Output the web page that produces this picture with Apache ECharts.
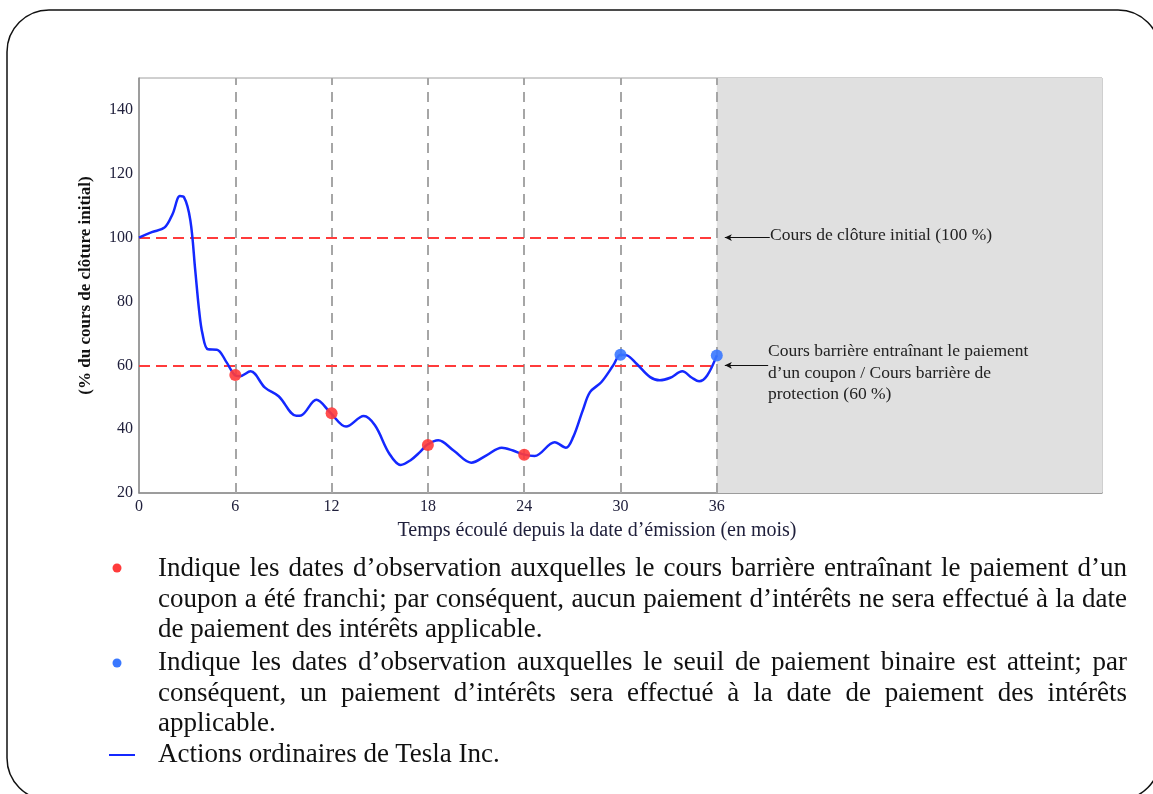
<!DOCTYPE html>
<html lang="fr">
<head>
    <title>Tesla - cours barrière</title>
    <meta charset="utf-8" />
    <script src="https://cdn.jsdelivr.net/npm/echarts@6/dist/echarts.min.js"></script>
    <style>
        body {
            margin: 0;
            background-color: #ffffff;
        }

        #main {
            position: absolute;
            left: 0;
            top: 0;
            width: 1153px;
            height: 794px;
        }

        .ligne {
            position: absolute;
            left: 158px;
            width: 969px;
            height: 31px;
            line-height: 31px;
            font-family: 'Liberation Serif', serif;
            font-size: 27px;
            color: #111;
            white-space: nowrap;
            text-align: justify;
            text-align-last: justify;
        }

        .fin {
            text-align: left;
            text-align-last: left;
        }
    </style>

    <script>
        // mois écoulés / cours en % du cours initial
        let months = [0, 0.8, 1.6, 2.1, 2.55, 2.8, 3.2, 3.5, 3.75, 3.95, 4.3, 4.85, 5.45, 5.95, 6.3, 6.95,
            7.85, 8.7, 9.8, 10.1, 11.05, 11.95, 12.9, 14.0, 14.7, 15.6, 16.3, 16.9, 17.5, 17.95, 18.65,
            19.6, 20.7, 21.65, 22.6, 23.3, 23.95, 24.65, 25.9, 26.6, 27.05, 27.65, 28.1, 28.8, 29.55,
            30.0, 30.4, 31.0, 31.85, 32.45, 33.1, 33.85, 34.45, 34.9, 35.4, 36.0]
        let values = [100, 101.7, 103.2, 107.5, 113, 112.7, 105.4, 90, 77, 70, 65, 64.9, 61, 57, 56.6, 58.1,
            53, 50.3, 44.2, 44.3, 49.2, 45, 40.8, 44.1, 41.2, 32.3, 28.8, 30.2, 32.8, 35.1, 36.5,
            33.3, 29.5, 31.8, 34.2, 33.3, 32.1, 31.6, 35.9, 34.2, 37.5, 45.9, 51.6, 54.7, 60,
            63.3, 63.1, 60.5, 56.3, 55.3, 56.1, 58.1, 56.1, 55, 56.8, 63.1]

        let obsMonths = [6, 12, 18, 24, 30, 36]
        let redMonths = [6, 12, 18, 24]
        let redValues = [57, 45, 35, 32]
        let blueMonths = [30, 36]
        let blueValues = [63.3, 63.1]

        let levelInitial = 100
        let levelBarrier = 60

        let colorLine = '#1428ff'
        let colorRed = '#ff3b3b'
        let colorBlue = '#3a78ff'
        let colorGridDash = '#a6a6a6'
        let colorLabel = '#20203c'
        let fontSerif = 'Liberation Serif'
    </script>
</head>
<body>
<div id="main"></div>

<div class="ligne" style="top:552px">Indique les dates d’observation auxquelles le cours barrière entraînant le paiement d’un</div>
<div class="ligne" style="top:583px">coupon a été franchi; par conséquent, aucun paiement d’intérêts ne sera effectué à la date</div>
<div class="ligne fin" style="top:613px">de paiement des intérêts applicable.</div>
<div class="ligne" style="top:646px">Indique les dates d’observation auxquelles le seuil de paiement binaire est atteint; par</div>
<div class="ligne" style="top:677px">conséquent, un paiement d’intérêts sera effectué à la date de paiement des intérêts</div>
<div class="ligne fin" style="top:707px">applicable.</div>
<div class="ligne fin" style="top:738px">Actions ordinaires de Tesla Inc.</div>

<script type="text/javascript">
    let myChart = echarts.init(document.getElementById('main'), null, {renderer: 'canvas'});

    let lineData = months.map(function (m, i) { return [m, values[i]] })
    let redData = redMonths.map(function (m, i) { return [m, redValues[i]] })
    let blueData = blueMonths.map(function (m, i) { return [m, blueValues[i]] })

    let dashStyle = {color: colorGridDash, width: 2, type: [10, 7]}
    let redDash = {color: colorRed, width: 2, type: [11, 6]}
    let arrowStyle = {color: '#111', width: 1, type: 'solid'}

    let option = {
        backgroundColor: '#ffffff',
        animation: false,
        grid: {
            left: 139,
            top: 78,
            right: 51,
            bottom: 301,
            show: true,
            borderColor: '#a0a0a0',
            borderWidth: 1
        },
        xAxis: {
            type: 'value',
            min: 0,
            max: 60,
            interval: 6,
            axisLine: {lineStyle: {color: '#8c8c8c', width: 1.5}},
            axisTick: {show: false},
            splitLine: {show: false},
            axisLabel: {
                margin: 6,
                fontFamily: fontSerif,
                fontSize: 16,
                color: colorLabel,
                formatter: function (v) { return v <= 36 ? String(v) : '' }
            }
        },
        yAxis: {
            type: 'value',
            min: 20,
            max: 150,
            interval: 20,
            name: '(% du cours de clôture initial)',
            nameLocation: 'middle',
            nameRotate: 90,
            nameGap: 45,
            nameTextStyle: {fontFamily: fontSerif, fontSize: 17, fontWeight: 'bold', color: '#111'},
            axisLine: {show: true, lineStyle: {color: '#8c8c8c', width: 1.5}},
            axisTick: {show: false},
            splitLine: {show: false},
            axisLabel: {
                margin: 6,
                fontFamily: fontSerif,
                fontSize: 16,
                color: colorLabel,
                formatter: function (v) { return v <= 140 ? String(v) : '' }
            }
        },
        graphic: [
            {
                type: 'rect',
                shape: {x: 7, y: 10, width: 1153, height: 790, r: 42},
                style: {fill: 'none', stroke: '#111', lineWidth: 1.5},
                z: 100
            },
            {
                type: 'text',
                x: 597,
                y: 531,
                style: {
                    text: 'Temps écoulé depuis la date d’émission (en mois)',
                    fontFamily: fontSerif,
                    fontSize: 20,
                    fill: colorLabel,
                    align: 'center',
                    verticalAlign: 'middle'
                }
            },
            {
                type: 'text',
                x: 770,
                y: 235,
                style: {
                    text: 'Cours de clôture initial (100 %)',
                    fontFamily: fontSerif,
                    fontSize: 17.5,
                    fill: '#222',
                    verticalAlign: 'middle'
                },
                z: 50
            },
            {
                type: 'text',
                x: 768,
                y: 341,
                style: {
                    text: 'Cours barrière entraînant le paiement\nd’un coupon / Cours barrière de\nprotection (60 %)',
                    fontFamily: fontSerif,
                    fontSize: 17.5,
                    lineHeight: 21.3,
                    fill: '#222',
                    verticalAlign: 'top'
                },
                z: 50
            },
            {
                type: 'circle',
                shape: {cx: 117, cy: 568, r: 4.5},
                style: {fill: colorRed}
            },
            {
                type: 'circle',
                shape: {cx: 117, cy: 663, r: 4.5},
                style: {fill: colorBlue}
            },
            {
                type: 'line',
                shape: {x1: 109, y1: 755, x2: 135, y2: 755},
                style: {stroke: colorLine, lineWidth: 2}
            }
        ],
        series: [
            {
                name: 'zone',
                type: 'line',
                data: [],
                z: 1,
                silent: true,
                markArea: {
                    silent: true,
                    z: 1,
                    itemStyle: {color: '#e0e0e0', borderWidth: 0},
                    data: [[{xAxis: 36}, {xAxis: 60}]]
                }
            },
            {
                name: 'repères',
                type: 'line',
                data: [],
                z: 2,
                silent: true,
                markLine: {
                    silent: true,
                    z: 2,
                    symbol: 'none',
                    label: {show: false},
                    data: obsMonths.map(function (m) {
                        return {xAxis: m, lineStyle: dashStyle}
                    }).concat([
                        [{coord: [0, levelInitial], lineStyle: redDash}, {coord: [36, levelInitial]}],
                        [{coord: [0, levelBarrier], lineStyle: redDash}, {coord: [36, levelBarrier]}],
                        [{coord: [39.3, levelInitial], lineStyle: arrowStyle, symbol: 'none'},
                            {coord: [36.5, levelInitial], symbol: 'arrow', symbolSize: [5, 7]}],
                        [{coord: [39.2, levelBarrier], lineStyle: arrowStyle, symbol: 'none'},
                            {coord: [36.5, levelBarrier], symbol: 'arrow', symbolSize: [5, 7]}]
                    ])
                }
            },
            {
                name: 'Actions ordinaires de Tesla Inc.',
                type: 'line',
                data: lineData,
                smooth: 0.35,
                showSymbol: false,
                z: 3,
                lineStyle: {color: colorLine, width: 2.5}
            },
            {
                name: 'franchi',
                type: 'scatter',
                data: redData,
                symbolSize: 12,
                z: 6,
                itemStyle: {color: colorRed, opacity: 0.9}
            },
            {
                name: 'atteint',
                type: 'scatter',
                data: blueData,
                symbolSize: 12,
                z: 6,
                itemStyle: {color: colorBlue, opacity: 0.9}
            }
        ]
    };

    myChart.setOption(option);
</script>
</body>
</html>
